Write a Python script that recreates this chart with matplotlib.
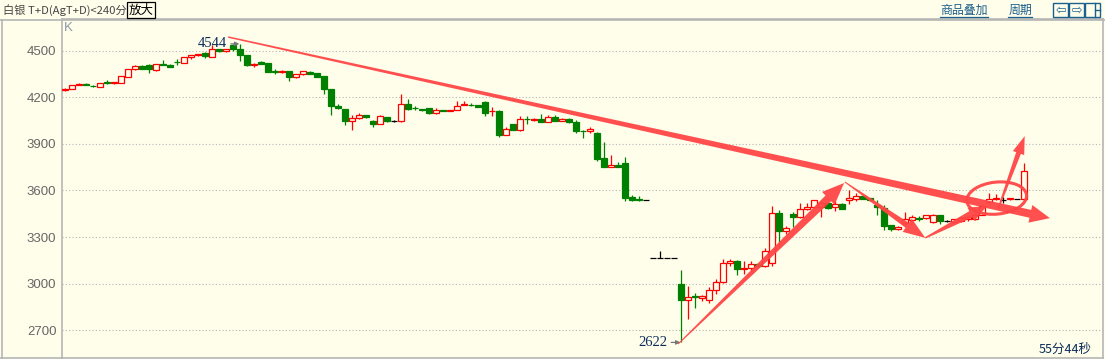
import numpy as np
import matplotlib
matplotlib.use("Agg")
import matplotlib.pyplot as plt
from matplotlib.patches import Polygon, Ellipse, Rectangle
from matplotlib.transforms import IdentityTransform
from matplotlib.lines import Line2D

# ---------------- data ----------------
opens = [4250, 4255, 4280, 4285, 4275, 4268, 4298, 4290, 4294, 4333,
         4380, 4403, 4410, 4376, 4416, 4410, 4429, 4423, 4461, 4472,
         4483, 4461, 4510, 4496, 4539, 4513, 4470, 4409, 4426, 4419,
         4370, 4360, 4368, 4332, 4347, 4366, 4355, 4336, 4253, 4145,
         4125, 4045, 4066, 4087, 4049, 4028, 4074, 4047, 4049, 4160,
         4132, 4125, 4128, 4102, 4119, 4111, 4121, 4151, 4153, 4151,
         4172, 4110, 4113, 3960, 4027, 3990, 4062, 4057, 4063, 4044,
         4076, 4050, 4063, 4044, 3986, 3980, 3971, 3806, 3753, 3763,
         3778, 3560, 3547, 3538, 3167, 3167, 3167, 3167, 3000, 2893,
         2918, 2906, 2893, 2957, 3009, 3132, 3143, 3094, 3098, 3126,
         3111, 3132, 3453, 3342, 3451, 3427, 3478, 3491, 3496, 3517,
         3491, 3515, 3540, 3547, 3564, 3549, 3506, 3485, 3379, 3353,
         3389, 3411, 3423, 3421, 3396, 3443, 3404, 3400, 3406, 3415,
         3415, 3445, 3524, 3545, 3538, 3543, 3543, 3543]
highs = [4262, 4280, 4293, 4290, 4278, 4292, 4311, 4298, 4337, 4382,
         4410, 4405, 4412, 4416, 4440, 4412, 4444, 4459, 4472, 4478,
         4492, 4536, 4514, 4511, 4540, 4544, 4472, 4419, 4432, 4421,
         4380, 4374, 4370, 4350, 4372, 4368, 4357, 4338, 4255, 4157,
         4127, 4087, 4102, 4089, 4051, 4087, 4076, 4055, 4221, 4190,
         4145, 4127, 4130, 4130, 4121, 4121, 4174, 4178, 4162, 4153,
         4176, 4138, 4115, 4010, 4029, 4078, 4078, 4066, 4090, 4087,
         4083, 4065, 4065, 4057, 3990, 4006, 3977, 3909, 3828, 3782,
         3815, 3571, 3564, 3538, 3167, 3211, 3167, 3167, 3085, 2983,
         2940, 2930, 2977, 3032, 3162, 3162, 3151, 3143, 3143, 3130,
         3228, 3500, 3474, 3374, 3462, 3517, 3517, 3540, 3530, 3519,
         3530, 3517, 3600, 3583, 3566, 3551, 3538, 3506, 3381, 3372,
         3460, 3443, 3436, 3445, 3447, 3445, 3411, 3417, 3428, 3436,
         3447, 3505, 3585, 3579, 3558, 3551, 3543, 3779]
lows = [4242, 4252, 4276, 4278, 4266, 4266, 4285, 4288, 4292, 4331,
        4378, 4382, 4358, 4372, 4408, 4393, 4410, 4421, 4444, 4468,
        4453, 4459, 4494, 4494, 4500, 4434, 4400, 4396, 4412, 4360,
        4347, 4355, 4306, 4325, 4344, 4349, 4330, 4223, 4083, 4127,
        4019, 3987, 4060, 4068, 4006, 4026, 4040, 4040, 4040, 4115,
        4117, 4113, 4092, 4092, 4109, 4109, 4119, 4149, 4142, 4138,
        4077, 4080, 3942, 3958, 3988, 3982, 4026, 4050, 4038, 4042,
        4046, 4048, 4032, 3972, 3940, 3970, 3789, 3751, 3751, 3751,
        3532, 3532, 3534, 3538, 3167, 3167, 3167, 3167, 2622, 2770,
        2844, 2889, 2876, 2936, 3007, 3115, 3053, 3064, 3079, 3110,
        3109, 3111, 3239, 3321, 3368, 3425, 3476, 3489, 3432, 3480,
        3470, 3479, 3513, 3530, 3545, 3530, 3443, 3347, 3336, 3347,
        3379, 3400, 3406, 3419, 3390, 3385, 3398, 3398, 3400, 3405,
        3413, 3440, 3522, 3540, 3517, 3541, 3543, 3541]
closes = [4255, 4277, 4288, 4281, 4270, 4290, 4294, 4296, 4335, 4380,
          4403, 4384, 4384, 4414, 4410, 4397, 4425, 4457, 4470, 4476,
          4466, 4509, 4496, 4509, 4513, 4470, 4406, 4413, 4415, 4364,
          4366, 4372, 4330, 4347, 4370, 4351, 4332, 4251, 4142, 4130,
          4045, 4066, 4087, 4070, 4025, 4077, 4045, 4047, 4157, 4125,
          4128, 4115, 4102, 4117, 4111, 4119, 4147, 4157, 4150, 4140,
          4102, 4113, 3960, 3999, 3990, 4063, 4058, 4061, 4040, 4076,
          4048, 4063, 4040, 3982, 3983, 3993, 3800, 3753, 3761, 3753,
          3554, 3540, 3536, 3538, 3167, 3167, 3167, 3167, 2893, 2915,
          2913, 2923, 2962, 3011, 3132, 3145, 3096, 3098, 3126, 3115,
          3211, 3453, 3342, 3357, 3427, 3478, 3491, 3538, 3521, 3489,
          3511, 3481, 3550, 3566, 3547, 3538, 3491, 3372, 3353, 3368,
          3415, 3432, 3419, 3440, 3443, 3406, 3404, 3415, 3421, 3428,
          3443, 3500, 3543, 3549, 3538, 3549, 3543, 3726]

yticks = [2700, 3000, 3300, 3600, 3900, 4200, 4500]
high_label = 4544
low_label = 2622

BG = "#fffeeb"
RED = "#ff0000"
GREEN = "#008000"
NAVY = "#0b2d5a"
MARK = "#ff4545"

W, H = 1105, 359


def fx(px):
    return px / W


def fy(py):
    return 1 - py / H


fig = plt.figure(figsize=(W / 100, H / 100), dpi=100, facecolor=BG)
ax = fig.add_axes([fx(62), fy(358), (1103 - 62) / W, (358 - 19) / H])
ax.set_facecolor(BG)

n = len(opens)
xs = np.arange(n)
ax.set_xlim(-0.43, -0.43 + (1103 - 62) / 7.0)
ax.set_ylim(2521.6, 4704)

# ---------------- candles ----------------
for i in range(n):
    o, h, l, c = opens[i], highs[i], lows[i], closes[i]
    if c > o:
        col, fc = RED, BG
    elif c < o:
        col, fc = GREEN, GREEN
    else:
        col, fc = "black", "black"
    ax.vlines(xs[i], l, h, color=col, lw=0.9, zorder=2)
    ax.bar(xs[i], abs(c - o), bottom=min(o, c), width=0.72,
           facecolor=fc, edgecolor=col, lw=0.9, zorder=3)

# ---------------- axes cosmetics ----------------
ax.set_yticks(yticks)
ax.set_yticklabels([str(v) for v in yticks], family="Liberation Sans",
                   fontsize=9.5, color="#666666")
ax.tick_params(axis="y", length=0, pad=4)
ax.set_xticks([])
ax.grid(axis="y", ls=(0, (1, 2)), color="#b5b5b5", lw=0.8)
ax.set_axisbelow(True)
for s in ax.spines.values():
    s.set_color("#b5b5b5")
    s.set_linewidth(1.2)

ax.text(0.002, 0.972, "K", transform=ax.transAxes, fontsize=9.5,
        color="#8a96aa", va="center", ha="left", family="Liberation Sans")

# high / low labels
imax = int(np.argmax(highs))
imin = int(np.argmin(lows))
ax.annotate(str(high_label), xy=(imax - 0.1, high_label),
            xytext=(imax - 1.9, high_label), ha="right", va="center",
            family="Liberation Serif", fontsize=10.5, color=NAVY,
            arrowprops=dict(arrowstyle="-|>", color="#777777", lw=0.9,
                            mutation_scale=6, shrinkA=1, shrinkB=0))
ax.annotate(str(low_label), xy=(imin - 0.1, low_label),
            xytext=(imin - 2.0, low_label), ha="right", va="center",
            family="Liberation Serif", fontsize=10.5, color=NAVY,
            arrowprops=dict(arrowstyle="-|>", color="#777777", lw=0.9,
                            mutation_scale=6, shrinkA=1, shrinkB=0))


# ---------------- hand drawn red marks ----------------
def taper_arrow(p0, p1, w0, w1, hw, hl):
    t = ax.transData
    x0, y0 = t.transform(p0)
    x1, y1 = t.transform(p1)
    dx, dy = x1 - x0, y1 - y0
    L = np.hypot(dx, dy)
    ux, uy = dx / L, dy / L
    nx, ny = -uy, ux
    bx, by = x1 - ux * hl, y1 - uy * hl
    pts = [(x0 + nx * w0 / 2, y0 + ny * w0 / 2),
           (bx + nx * w1 / 2, by + ny * w1 / 2),
           (bx + nx * hw / 2, by + ny * hw / 2),
           (x1, y1),
           (bx - nx * hw / 2, by - ny * hw / 2),
           (bx - nx * w1 / 2, by - ny * w1 / 2),
           (x0 - nx * w0 / 2, y0 - ny * w0 / 2)]
    fig.add_artist(Polygon(pts, closed=True, transform=IdentityTransform(),
                           facecolor=MARK, edgecolor="none", alpha=0.95,
                           zorder=5))


taper_arrow((23.3, 4588), (140.7, 3422), 1.5, 8, 18, 20)
taper_arrow((87.6, 2612), (111.3, 3648), 1.0, 8, 18, 22)
taper_arrow((111.4, 3655), (122.9, 3295), 1.0, 6, 16, 22)
taper_arrow((122.9, 3295), (131.7, 3500), 1.5, 7, 15, 18)
taper_arrow((133.3, 3480), (137.1, 3950), 1.5, 5, 12, 18)

cx, cy = ax.transData.transform((133.1, 3551))
fig.add_artist(Ellipse((cx, cy), 60, 32, angle=6, transform=IdentityTransform(),
                       facecolor="none", edgecolor=MARK, lw=2.2, alpha=0.95,
                       zorder=5))

# ---------------- frame and header ----------------
fig.add_artist(Line2D([0, 1], [fy(19.5), fy(19.5)], color="#b5b5b5", lw=1.2))
fig.add_artist(Line2D([fx(1.5), fx(1.5)], [fy(19.5), fy(358)], color="#b5b5b5", lw=1.2))
fig.add_artist(Line2D([fx(0), fx(62)], [fy(358), fy(358)], color="#b5b5b5", lw=1.2))

cjk = ["Noto Sans CJK SC", "DejaVu Sans"]
fig.text(fx(3), fy(10), "白银 T+D(AgT+D)<240分", fontsize=8.1, va="center",
         ha="left", color="#444444", family=cjk)
fig.text(fx(141), fy(10), "放大", fontsize=9, va="center", ha="center",
         color="black", family=cjk,
         bbox=dict(boxstyle="square,pad=0.12", fc=BG, ec="black", lw=0.9))

LINK = "#1b5f8c"
fig.text(fx(964), fy(10), "商品叠加", fontsize=8.6, va="center", ha="center",
         color=LINK, family=cjk)
fig.add_artist(Line2D([fx(940), fx(988)], [fy(17), fy(17)], color=LINK, lw=0.9))
fig.text(fx(1020), fy(10), "周期", fontsize=8.6, va="center", ha="center",
         color=LINK, family=cjk)
fig.add_artist(Line2D([fx(1008), fx(1032)], [fy(17), fy(17)], color=LINK, lw=0.9))

for k, sym in enumerate(["⇦", "⇨", ""]):
    x0 = 1053 + 16 * k
    fig.add_artist(Rectangle((fx(x0), fy(17)), 15 / W, 14 / H,
                             facecolor=BG, edgecolor=LINK, lw=1.0))
    if sym:
        fig.text(fx(x0 + 7.5), fy(10), sym, fontsize=9, ha="center",
                 va="center", color=LINK, family="DejaVu Sans")
    else:
        fig.add_artist(Line2D([fx(x0 + 10), fx(x0 + 10)], [fy(3), fy(17)],
                              color=LINK, lw=1.0))
        fig.add_artist(Line2D([fx(x0 + 10), fx(x0 + 15)], [fy(10), fy(10)],
                              color=LINK, lw=1.0))

fig.text(fx(1092), fy(349), "55分44秒", fontsize=9, va="center", ha="right",
         color=NAVY, family=cjk)

fig.savefig("out.png", dpi=100, facecolor=BG)
